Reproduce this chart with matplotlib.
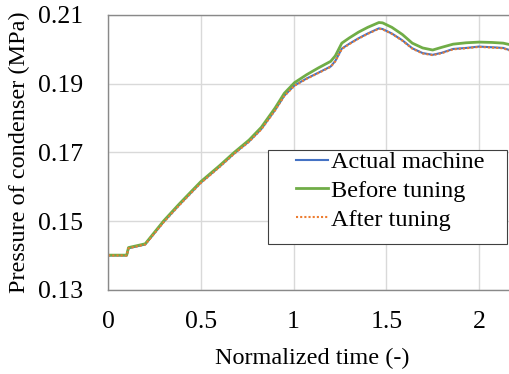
import matplotlib.pyplot as plt
from matplotlib.patches import Rectangle

# normalized time and condenser pressure (MPa)
t_actual = [0.0, 0.10, 0.11, 0.20, 0.30, 0.38, 0.446, 0.5, 0.60, 0.68, 0.76, 0.826,
            0.90, 0.95, 1.005, 1.07, 1.134, 1.20, 1.225, 1.26, 1.30, 1.35, 1.40,
            1.46, 1.48, 1.53, 1.587, 1.64, 1.696, 1.75, 1.80, 1.86, 1.93, 2.0,
            2.07, 2.13, 2.18]
p_actual = [0.1400, 0.1400, 0.1421, 0.1432, 0.1498, 0.1545, 0.1582, 0.1612, 0.1658,
            0.1697, 0.1732, 0.1768, 0.1823, 0.1865, 0.1895, 0.1915, 0.1932, 0.1950,
            0.1966, 0.2002, 0.2016, 0.2032, 0.2046, 0.2061, 0.2059, 0.2046, 0.2026,
            0.2003, 0.1989, 0.1984, 0.1990, 0.2001, 0.2004, 0.2008, 0.2006, 0.2004,
            0.1995]

t_before = t_actual
p_before = [0.1401, 0.1401, 0.1423, 0.1434, 0.1501, 0.1548, 0.1585, 0.1615, 0.1661,
            0.1700, 0.1736, 0.1773, 0.1829, 0.1872, 0.1903, 0.1926, 0.1946, 0.1965,
            0.1981, 0.2018, 0.2033, 0.2050, 0.2064, 0.2078, 0.2077, 0.2064, 0.2043,
            0.2018, 0.2004, 0.1998, 0.2006, 0.2015, 0.2019, 0.2021, 0.2020, 0.2018,
            0.2012]

t_after = t_actual
p_after = [0.1400, 0.1400, 0.1421, 0.1432, 0.1497, 0.1544, 0.1581, 0.1611, 0.1657,
           0.1696, 0.1731, 0.1767, 0.1822, 0.1864, 0.1894, 0.1914, 0.1931, 0.1949,
           0.1965, 0.2001, 0.2015, 0.2031, 0.2045, 0.2060, 0.2058, 0.2045, 0.2025,
           0.2002, 0.1988, 0.1983, 0.1989, 0.2000, 0.2003, 0.2007, 0.2005, 0.2003,
           0.1994]

x_ticks = [0, 0.5, 1, 1.5, 2]
x_tick_labels = ["0", "0.5", "1", "1.5", "2"]
y_ticks = [0.13, 0.15, 0.17, 0.19, 0.21]
y_tick_labels = ["0.13", "0.15", "0.17", "0.19", "0.21"]

plt.rcParams["font.family"] = ["Liberation Serif", "DejaVu Serif"]

fig = plt.figure(figsize=(5.10, 3.74), dpi=100)
ax = fig.add_axes([0.212, 0.225, 0.80, 0.735])

ax.plot(t_actual, p_actual, color="#4472C4", lw=1.5, label="Actual machine")
ax.plot(t_before, p_before, color="#70AD47", lw=2.0, label="Before tuning")
ax.plot(t_after, p_after, color="#ED7D31", lw=1.5, linestyle=(0, (1, 1)),
        label="After tuning")

ax.set_xlim(0, 2.2)
ax.set_ylim(0.13, 0.21)
ax.set_xticks(x_ticks)
ax.set_xticklabels(x_tick_labels)
ax.set_yticks(y_ticks)
ax.set_yticklabels(y_tick_labels)
ax.tick_params(length=0, labelsize=18.5, colors="black")
ax.tick_params(axis="x", pad=15)
ax.tick_params(axis="y", pad=18)
ax.grid(True, color="#D9D9D9", lw=1.0)
ax.set_axisbelow(True)
for side in ax.spines.values():
    side.set_color("#898989")
    side.set_linewidth(1.0)

ax.set_xlabel("Normalized time (-)", fontsize=17.5, labelpad=11)
ax.set_ylabel("Pressure of condenser (MPa)", fontsize=17.5, labelpad=6)

# legend box drawn separately so it can have the wide side margins of the original
box = Rectangle((268 / 510, 1 - 244 / 374), 239 / 510, 94 / 374,
                transform=fig.transFigure, facecolor="white",
                edgecolor="#404040", lw=0.8, zorder=4.5, clip_on=False)
ax.add_patch(box)
leg = ax.legend(loc="upper left", bbox_to_anchor=(296 / 510, 1 - 151 / 374),
                bbox_transform=fig.transFigure, fontsize=17.5, frameon=False,
                handlelength=1.32, handletextpad=0.12, borderpad=0,
                labelspacing=0.28, borderaxespad=0)

fig.savefig("out.png", dpi=100)
